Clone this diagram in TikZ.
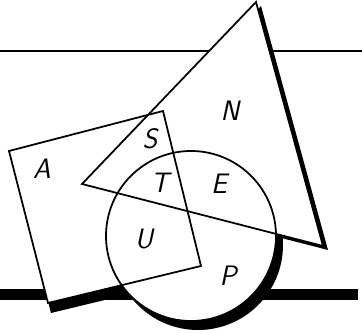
\documentclass[tikz,border=0pt]{standalone}
\usepackage{fontspec}
\usepackage{tikz}

\begin{document}
\begin{tikzpicture}[
  x=0.02cm, y=-0.02cm,
  edge/.style={draw, line width=1pt, line join=miter},
  shadow/.style={fill=black},
  blank/.style={fill=white},
  letter/.style={font=\sffamily\itshape\fontsize{16}{16}\selectfont, inner sep=0pt},
]
\useasboundingbox (0,0) rectangle (362,333);
% ---------- horizon and floor ----------
\draw[line width=1.1pt] (0,51) -- (362,51);
\fill (0,289) rectangle (358,300);

% ---------- shadows ----------
\fill[shadow, shift={(7,9)}] (191,236) circle[radius=85];
\fill[shadow, shift={(3,10)}] (9,151) -- (163,111) -- (201,266) -- (48,303) -- cycle;
\fill[shadow, shift={(5,4)}] (256,2) -- (323,246) -- (82,184) -- cycle;

% ---------- white bodies ----------
\fill[blank] (256,2) -- (323,246) -- (82,184) -- cycle;
\fill[blank] (9,151) -- (163,111) -- (201,266) -- (48,303) -- cycle;
\fill[blank] (191,236) circle[radius=85];

% ---------- outlines ----------
\draw[edge] (256,2) -- (323,246) -- (82,184) -- cycle;
\draw[edge] (9,151) -- (163,111) -- (201,266) -- (48,303) -- cycle;
\draw[edge] (191,236) circle[radius=85];

% ---------- letters ----------
\node[letter] (a) at (42,169) {A};
\node[letter] (s) at (150,139) {S};
\node[letter] (n) at (230,111) {N};
\node[letter] (t) at (160,183) {T};
\node[letter] (e) at (219,184) {E};
\node[letter] (u) at (144,239) {U};
\node[letter] (p) at (228,276) {P};
\end{tikzpicture}
\end{document}
